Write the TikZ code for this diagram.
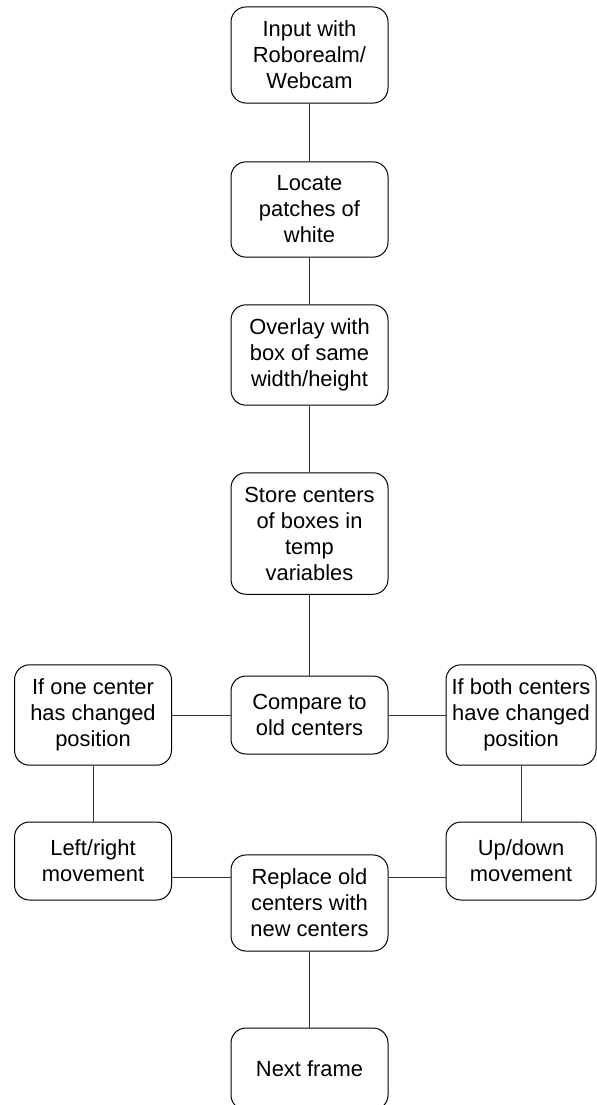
\documentclass[tikz,border=0pt]{standalone}
\usepackage{fontspec}
\setmainfont{Liberation Sans}
\usepackage{tikz}

\tikzset{
  stepbox/.style={draw=black, line width=0.5pt, rounded corners=7.5pt, align=center,
    minimum width=78.5pt, minimum height=39pt, inner xsep=1pt, inner ysep=7pt,
    font=\fontsize{10.95}{13}\selectfont},
  sidebox/.style={stepbox, minimum width=75pt},
  link/.style={draw=black!80, line width=0.5pt}
}

\begin{document}
\begin{tikzpicture}[x=0.5pt,y=-0.5pt]
        \def\cx{309.5};
        \def\lx{93};
        \def\rx{521};
        \useasboundingbox (0,0) rectangle (597,1105);
        \coordinate (mrow) at (0,877); %row of the movement links%

        \node[stepbox] (input) at (\cx,55) {Input with\\Roborealm/\\Webcam};
        \node[stepbox] (locate) at (\cx,209.5) {Locate\\patches of\\white};
        \node[stepbox] (overlay) at (\cx,355) {Overlay with\\box of same\\width/height};
        \node[stepbox] (store) at (\cx,533.5) {Store centers\\of boxes in\\temp\\variables};
        \node[stepbox] (compare) at (\cx,715) {Compare to\\old centers};
        \node[stepbox] (onechg) at (\lx,715) {If one center\\has changed\\position};
        \node[sidebox] (bothchg) at (\rx,715) {If both centers\\have changed\\position};
        \node[stepbox] (leftright) at (\lx,861) {Left/right\\movement};
        \node[sidebox] (updown) at (\rx,861) {Up/down\\movement};
        \node[stepbox] (replace) at (\cx,903) {Replace old\\centers with\\new centers};
        \node[stepbox, minimum height=41pt] (next) at (\cx,1069) {Next frame};

  \draw[link] (input) -- (locate);
  \draw[link] (locate) -- (overlay);
  \draw[link] (overlay) -- (store);
  \draw[link] (store) -- (compare);
  \draw[link] (compare) -- (onechg); %one center%
  \draw[link] (compare) -- (bothchg); %both centers%
  \draw[link] (onechg) -- (leftright);
  \draw[link] (bothchg) -- (updown);

  \draw[link] (leftright.east |- mrow) -- (replace.west |- mrow);
  \draw[link] (replace.east |- mrow) -- (updown.west |- mrow);
  \draw[link] (replace) -- (next);
\end{tikzpicture}
\end{document}
